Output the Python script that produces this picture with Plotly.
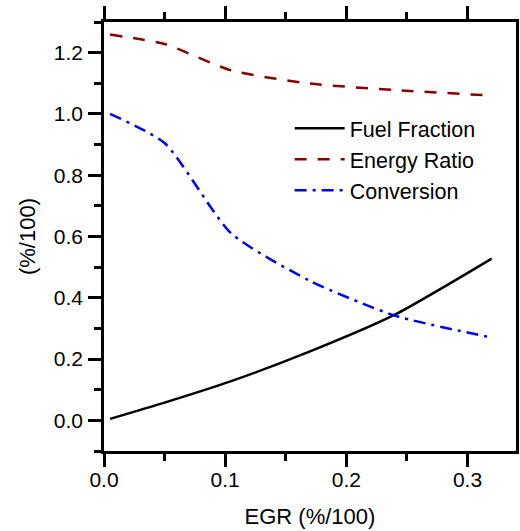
import plotly.graph_objects as go

# EGR sweep (fraction) and the three response curves
egr = [0.005, 0.05, 0.105, 0.17, 0.24, 0.32]
fuel_fraction = [0.005, 0.058, 0.128, 0.225, 0.345, 0.528]
energy_ratio = [1.259, 1.228, 1.142, 1.099, 1.078, 1.060]
conversion = [1.0, 0.905, 0.61, 0.455, 0.342, 0.27]

FONT = "Liberation Sans, Arial, sans-serif"

fig = go.Figure()
fig.add_trace(go.Scatter(
    x=egr, y=fuel_fraction, mode="lines", name="Fuel Fraction",
    line=dict(color="black", width=2.5, shape="spline", smoothing=0.6),
))
fig.add_trace(go.Scatter(
    x=egr, y=energy_ratio, mode="lines", name="Energy Ratio",
    line=dict(color="#8b0000", width=2.5, dash="12px,11px", shape="spline", smoothing=0.6),
))
fig.add_trace(go.Scatter(
    x=egr, y=conversion, mode="lines", name="Conversion",
    line=dict(color="#0000ff", width=2.5, dash="12px,6px,3px,6px", shape="spline", smoothing=0.6),
))

axis_common = dict(
    showgrid=False, zeroline=False,
    showline=True, linecolor="black", linewidth=2.5,
    ticks="outside", ticklen=13, tickwidth=2.5, tickcolor="black",
    tickfont=dict(family=FONT, size=21, color="black"),
    title_font=dict(family=FONT, size=22, color="black"),
)

fig.update_xaxes(
    **axis_common,
    range=[0, 0.34], tickvals=[0.0, 0.1, 0.2, 0.3], tickformat=".1f",
    minor=dict(dtick=0.05, tick0=0, ticks="outside", ticklen=7, tickwidth=2.5, tickcolor="black"),
    mirror="ticks",
    title_text="EGR (%/100)", title_standoff=19,
    ticklabelstandoff=-5,
)
fig.update_yaxes(
    **axis_common,
    range=[-0.1, 1.3], tickvals=[0.0, 0.2, 0.4, 0.6, 0.8, 1.0, 1.2], tickformat=".1f",
    minor=dict(dtick=0.1, tick0=0, ticks="outside", ticklen=7, tickwidth=2.5, tickcolor="black"),
    mirror=True,
    title_text="(%/100)", title_standoff=13,
    ticklabelstandoff=1,
)

fig.update_layout(
    width=520, height=531,
    margin=dict(l=104, r=1, t=22, b=80),
    plot_bgcolor="white", paper_bgcolor="white",
    font=dict(family=FONT, size=22, color="black"),
    legend=dict(
        x=0.4506, y=0.80, xanchor="left", yanchor="top",
        bgcolor="rgba(0,0,0,0)", borderwidth=0,
        font=dict(family=FONT, size=21.5, color="black"),
        itemwidth=50, tracegroupgap=0,
    ),
)

fig.write_html("out.html")
